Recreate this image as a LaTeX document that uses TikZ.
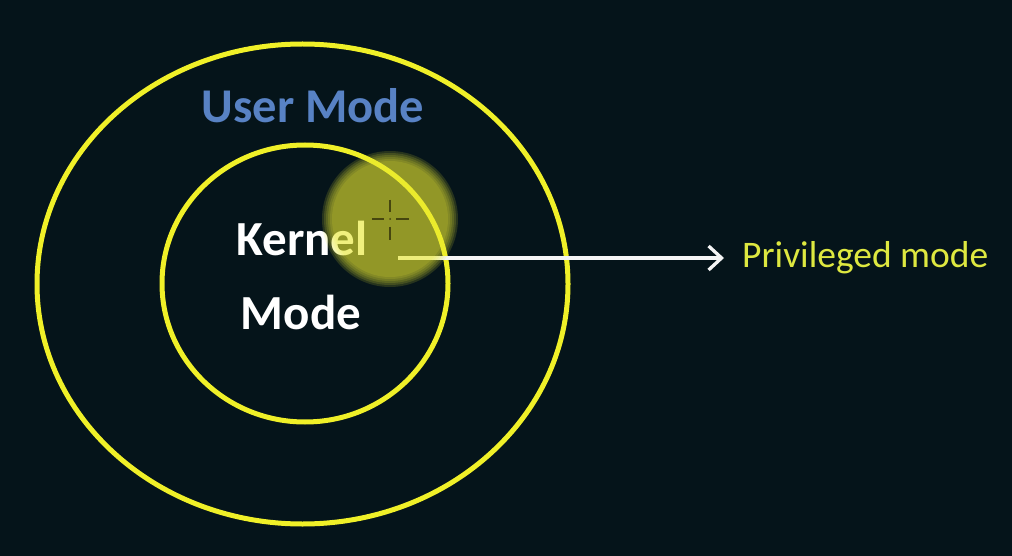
\documentclass[tikz,border=0pt]{standalone}
\usepackage{fontspec}
\setmainfont{Carlito}
\usetikzlibrary{shapes.geometric,arrows.meta}
\definecolor{bg}{RGB}{5,20,26}
\definecolor{ringyellow}{RGB}{240,240,40}
\definecolor{userblue}{RGB}{88,130,196}
\definecolor{privyellow}{RGB}{222,232,64}
\definecolor{crossc}{RGB}{70,70,15}
\definecolor{blobc}{RGB}{235,235,50}
\tikzset{
  ring/.style={draw=ringyellow, line width=5pt, shape=ellipse, inner sep=0pt},
  bigtext/.style={font=\bfseries\fontsize{49}{49}\selectfont, inner sep=0pt, anchor=base},
  connector/.style={draw=white!92!gray, line width=3.3pt, -{Straight Barb[length=13pt,width=24pt,line width=3.3pt]}},
  crossline/.style={draw=crossc, line width=1.6pt},
  blobring/.style={fill=blobc, opacity=0.15}
}
\begin{document}
\begin{tikzpicture}[x=1pt,y=-1pt]
\fill[bg] (0,0) rectangle (1012,556);
\useasboundingbox (0,0) rectangle (1012,556);
\node[ring, minimum width=531pt, minimum height=480pt] (outer) at (302.5,284) {};
\node[ring, minimum width=286pt, minimum height=277pt] (inner) at (305,283.5) {};
\node[bigtext, text=userblue, font=\bfseries\fontsize{48.5}{48.5}\selectfont] (user) at (313,123) {User Mode};
\node[bigtext, text=white] (kernel) at (302,255) {Kernel};
\node[bigtext, text=white] (kmode) at (301,329) {Mode};
\node[anchor=west, inner sep=0pt, text=privyellow, font=\fontsize{37.5}{37.5}\selectfont] (priv) at (742,258) {Privileged mode};
\coordinate (src) at (398,258);
\draw[connector, shorten >=18pt] (src) -- (src -| priv.west);
% cursor highlight
\foreach \r in {68,66,64,62,60,58} {\fill[blobring] (390,219) circle (\r);}
\draw[crossline] (372,219) -- (384,219);
\draw[crossline] (396,219) -- (409,219);
\draw[crossline] (390,200) -- (390,212);
\draw[crossline] (390,227) -- (390,240);
\fill[crossc] (390,219) circle (1);
\end{tikzpicture}
\end{document}
